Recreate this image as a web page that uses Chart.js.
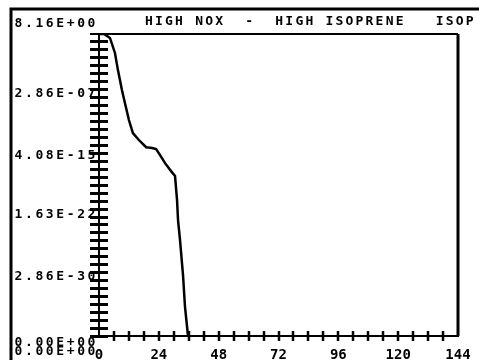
<!DOCTYPE html>
<html>
<head>
<meta charset="utf-8">
<script src="https://cdn.jsdelivr.net/npm/chart.js@4.4.0/dist/chart.umd.min.js"></script>
<style>
  html, body { margin: 0; padding: 0; background: #fff; }
</style>
</head>
<body>
<canvas id="chart" width="479" height="360"></canvas>
<script>
// series: time (x) vs ISOP concentration (log y)
const titleText = "HIGH NOX  -  HIGH ISOPRENE   ISOP";
const hours = [0, 2, 4.4, 6.4, 7.6, 9.2, 10.4, 12, 13.6, 16, 18.9, 21.3, 22.9, 24.5, 26.5, 28.9, 30.5, 31.3, 31.7, 32.5, 33.7, 34.5, 35.7];
const isop = [8.16, 8.16, 2.6, 3.4e-2, 2.4e-4, 7.6e-7, 1.8e-8, 1.3e-10, 3e-12, 4e-13, 5e-14, 4e-14, 3e-14, 5e-15, 5e-16, 5e-17, 1.2e-17, 1.2e-20, 3.6e-23, 1.1e-25, 4.5e-30, 4.4e-34, 1e-37];

const xTicks = [0, 24, 48, 72, 96, 120, 144];
const yTicks = [8.16, 2.86e-7, 4.08e-15, 1.63e-22, 2.86e-30, 1e-37];
const yLabels = ["8.16E+00", "2.86E-07", "4.08E-15", "1.63E-22", "2.86E-30", "0.00E+00"];
const xMinLabel = "0.00E+00";

const FONT = "bold 13px 'DejaVu Sans Mono'";

// frame, ladder ticks, crosses and the text in the old plotter style
const plotterDecor = {
  id: "plotterDecor",
  afterDraw(chart) {
    const ctx = chart.ctx;
    const a = chart.chartArea;
    const xs = chart.scales.x;
    const ys = chart.scales.y;
    ctx.save();
    ctx.strokeStyle = "#000";
    ctx.fillStyle = "#000";

    // outer frame
    ctx.lineWidth = 3;
    ctx.beginPath();
    ctx.moveTo(11, 360);
    ctx.lineTo(11, 9);
    ctx.lineTo(479, 9);
    ctx.stroke();

    // plot box
    ctx.lineWidth = 2;
    ctx.beginPath();
    ctx.moveTo(a.left - 9, a.top);
    ctx.lineTo(a.right, a.top);
    ctx.moveTo(a.left, a.top);
    ctx.lineTo(a.left, a.bottom);
    ctx.moveTo(a.left, a.bottom);
    ctx.lineTo(a.right + 1, a.bottom);
    ctx.stroke();
    ctx.lineWidth = 3;
    ctx.beginPath();
    ctx.moveTo(a.right, a.top);
    ctx.lineTo(a.right, a.bottom);
    ctx.stroke();

    // y ladder, one rung per decade
    ctx.lineWidth = 3;
    ctx.beginPath();
    for (let e = -37; e <= 0; e++) {
      const py = Math.round(ys.getPixelForValue(Math.pow(10, e))) + 0.5;
      ctx.moveTo(a.left - 9, py);
      ctx.lineTo(a.left + 9, py);
    }
    ctx.stroke();

    // x crosses every 6
    ctx.lineWidth = 2.5;
    ctx.beginPath();
    for (let t = 6; t < 144; t += 6) {
      const px = Math.round(xs.getPixelForValue(t));
      ctx.moveTo(px, a.bottom - 5);
      ctx.lineTo(px, a.bottom + 5);
    }
    ctx.stroke();

    // text
    ctx.font = FONT;
    ctx.textBaseline = "middle";
    ctx.letterSpacing = "2.6px";
    ctx.textAlign = "right";
    yTicks.forEach((v, i) => {
      let py = ys.getPixelForValue(v);
      if (i === 0) py -= 10;
      if (i === yTicks.length - 1) py += 7;
      ctx.fillText(yLabels[i], 98, py);
    });
    ctx.fillText(xMinLabel, 98, a.bottom + 16);

    ctx.letterSpacing = "2.2px";
    ctx.textAlign = "left";
    ctx.fillText(titleText, 145, 22);
    ctx.restore();
  }
};

new Chart(document.getElementById("chart"), {
  type: "line",
  data: {
    datasets: [{
      data: hours.map((h, i) => ({ x: h, y: isop[i] })),
      borderColor: "#000",
      borderWidth: 2.5,
      pointRadius: 0,
      tension: 0,
      fill: false
    }]
  },
  options: {
    responsive: false,
    animation: false,
    devicePixelRatio: 1,
    layout: { padding: { top: 34, right: 21, left: 0, bottom: 0 } },
    plugins: {
      legend: { display: false },
      tooltip: { enabled: false },
      title: { display: false }
    },
    scales: {
      x: {
        type: "linear",
        min: 0,
        max: 144,
        afterBuildTicks: s => { s.ticks = xTicks.map(v => ({ value: v })); },
        afterFit: s => { s.height = 24; },
        grid: { display: false },
        border: { display: false },
        ticks: {
          color: "#000",
          font: { family: "DejaVu Sans Mono", size: 14, weight: "bold" },
          padding: 3,
          maxRotation: 0,
          autoSkip: false
        }
      },
      y: {
        type: "logarithmic",
        min: 1e-37,
        max: 8.16,
        afterBuildTicks: s => { s.ticks = yTicks.map(v => ({ value: v })); },
        afterFit: s => { s.width = 99; },
        grid: { display: false },
        border: { display: false },
        ticks: { display: false }
      }
    }
  },
  plugins: [plotterDecor]
});
</script>
</body>
</html>
